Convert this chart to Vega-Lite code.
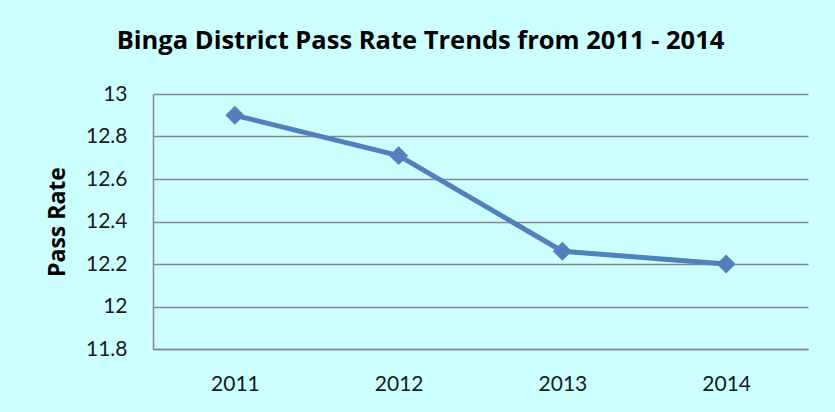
{
  "$schema": "https://vega.github.io/schema/vega-lite/v6.json",
  "width": 655,
  "height": 255,
  "autosize": {"type": "none"},
  "padding": {"left": 153, "top": 94, "right": 27, "bottom": 63},
  "background": "#CCFFFF",
  "title": {
    "text": "Binga District Pass Rate Trends from 2011 - 2014",
    "font": "Open Sans",
    "fontSize": 25.5,
    "fontWeight": "bold",
    "color": "#000000",
    "anchor": "middle",
    "dx": -60,
    "offset": 29
  },
  "data": {
    "values": [
      {"year": "2011", "rate": 12.9},
      {"year": "2012", "rate": 12.71},
      {"year": "2013", "rate": 12.26},
      {"year": "2014", "rate": 12.2}
    ]
  },
  "config": {
    "view": {"stroke": null},
    "axis": {
      "labelFont": "Lato",
      "labelFontSize": 21,
      "labelColor": "#1a1a1a",
      "titleFont": "Open Sans",
      "domainColor": "#888888",
      "domainWidth": 1.5,
      "gridColor": "#888888",
      "gridWidth": 1.5,
      "ticks": false
    }
  },
  "encoding": {
    "x": {
      "field": "year",
      "type": "ordinal",
      "scale": {"type": "point", "padding": 0.5},
      "axis": {"title": null, "labelAngle": 0, "labelPadding": 24, "grid": false}
    },
    "y": {
      "field": "rate",
      "type": "quantitative",
      "scale": {"domain": [11.8, 13], "nice": false, "zero": false},
      "axis": {
        "title": "Pass Rate",
        "titleFontSize": 23,
        "titleFontWeight": "bold",
        "titleColor": "#000000",
        "titlePadding": 16,
        "values": [11.8, 12, 12.2, 12.4, 12.6, 12.8, 13],
        "format": ".1~f",
        "labelPadding": 26,
        "grid": true
      }
    }
  },
  "layer": [
    {"mark": {"type": "line", "color": "#4F81BD", "strokeWidth": 5}},
    {"mark": {"type": "point", "shape": "diamond", "filled": true, "color": "#4F81BD", "size": 360, "opacity": 1}}
  ]
}
